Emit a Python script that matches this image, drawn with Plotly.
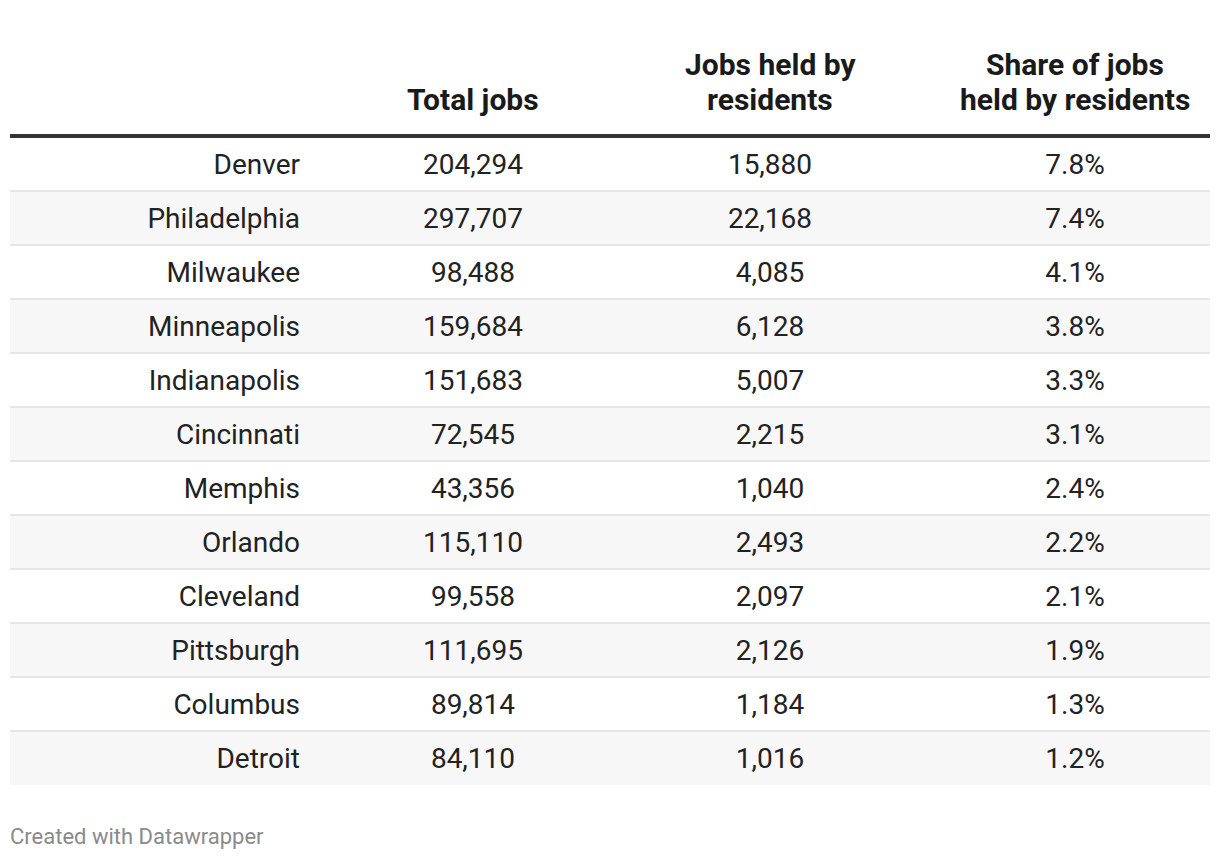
import plotly.graph_objects as go

cities = ["Denver", "Philadelphia", "Milwaukee", "Minneapolis", "Indianapolis", "Cincinnati",
          "Memphis", "Orlando", "Cleveland", "Pittsburgh", "Columbus", "Detroit"]
total_jobs = [204294, 297707, 98488, 159684, 151683, 72545, 43356, 115110, 99558, 111695, 89814, 84110]
resident_jobs = [15880, 22168, 4085, 6128, 5007, 2215, 1040, 2493, 2097, 2126, 1184, 1016]
share_pct = [7.8, 7.4, 4.1, 3.8, 3.3, 3.1, 2.4, 2.2, 2.1, 1.9, 1.3, 1.2]
headers = [["", "Total jobs"], ["Jobs held by", "residents"], ["Share of jobs", "held by residents"]]
footer = "Created with Datawrapper"

PAGE_W, PAGE_H = 1220, 860
OFF = 8  # default body margin of the page
W, H = PAGE_W - OFF, PAGE_H - OFF
FONT = "Roboto, 'Open Sans', sans-serif"
TXT = "#222222"
ROW_PX = 54
FIRST_ROW_CENTER = 164
TEXT_SHIFT = 3 / ROW_PX  # body text sits slightly lower than the row centre
n = len(cities)
rows = list(range(n))

def px_to_row(p):
    return (p - FIRST_ROW_CENTER) / ROW_PX

fig = go.Figure()

# row banding
fig.add_trace(go.Bar(
    orientation="h", y=rows, x=[1200] * n, base=[10] * n, width=1,
    marker=dict(color=["#ffffff" if i % 2 == 0 else "#f7f7f7" for i in rows], line=dict(width=0)),
    hoverinfo="skip", showlegend=False))

col_x = [473, 770, 1075]
col_text = [
    [f"{v:,}" for v in total_jobs],
    [f"{v:,}" for v in resident_jobs],
    [f"{v:.1f}%" for v in share_pct],
]

fig.add_trace(go.Scatter(
    x=[300] * n, y=rows, yaxis="y2", mode="text", text=cities, textposition="middle left",
    textfont=dict(family=FONT, size=28, color=TXT), hoverinfo="skip", showlegend=False))
for cx, txt in zip(col_x, col_text):
    fig.add_trace(go.Scatter(
        x=[cx] * n, y=rows, yaxis="y2", mode="text", text=txt, textposition="middle center",
        textfont=dict(family=FONT, size=28, color=TXT), hoverinfo="skip", showlegend=False))

# separators
for i in range(1, n):
    fig.add_shape(type="line", x0=10, x1=1210, y0=i - 0.5, y1=i - 0.5, xref="x", yref="y",
                  line=dict(color="#e6e6e6", width=2), layer="above")
# thick header rule
fig.add_shape(type="line", x0=10, x1=1210, y0=px_to_row(136), y1=px_to_row(136), xref="x", yref="y",
              line=dict(color="#333333", width=4), layer="above")

for cx, lines in zip(col_x, headers):
    for ly, line in zip([64, 99], lines):
        if not line:
            continue
        fig.add_annotation(x=cx, y=px_to_row(ly), xref="x", yref="y", text=f"<b>{line}</b>",
                           showarrow=False, xanchor="center", yanchor="middle",
                           font=dict(family=FONT, size=30, color="#1a1a1a"))

fig.add_annotation(x=8, y=px_to_row(836), xref="x", yref="y", text=footer, showarrow=False,
                   xanchor="left", yanchor="middle", font=dict(family=FONT, size=22, color="#8a8a8a"))

y_range = [px_to_row(PAGE_H), px_to_row(OFF)]
fig.update_layout(
    width=W, height=H, margin=dict(l=0, r=0, t=0, b=0),
    paper_bgcolor="white", plot_bgcolor="white", bargap=0,
    xaxis=dict(range=[OFF, PAGE_W], visible=False, fixedrange=True),
    yaxis=dict(range=y_range, visible=False, fixedrange=True),
    yaxis2=dict(range=[v - TEXT_SHIFT for v in y_range], overlaying="y", visible=False, fixedrange=True),
)

fig.write_html("out.html")
